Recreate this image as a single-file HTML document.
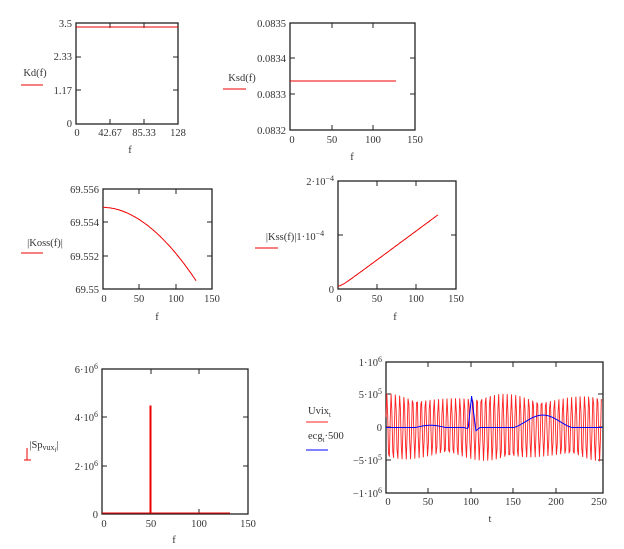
<!DOCTYPE html>
<html><head><meta charset="utf-8">
<style>
body{margin:0;background:#fff;}
svg{font-family:"Liberation Serif",serif;font-size:10.5px;fill:#333;}
text{fill:#333;}
</style></head><body>
<svg id="s" width="624" height="544" xmlns="http://www.w3.org/2000/svg"></svg>
<script>
const S=document.getElementById('s');let h='';
function box(x0,y0,x1,y1,xt,yt){
 h+=`<rect x="${x0}" y="${y0}" width="${x1-x0}" height="${y1-y0}" fill="none" stroke="#222" stroke-width="1.3"/>`;
 xt.forEach(x=>{h+=`<line x1="${x}" y1="${y0}" x2="${x}" y2="${y0+5}" stroke="#222"/><line x1="${x}" y1="${y1}" x2="${x}" y2="${y1-5}" stroke="#222"/>`});
 yt.forEach(y=>{h+=`<line x1="${x0}" y1="${y}" x2="${x0+5}" y2="${y}" stroke="#222"/><line x1="${x1}" y1="${y}" x2="${x1-5}" y2="${y}" stroke="#222"/>`});
}
function t(x,y,s,a){h+=`<text x="${x}" y="${y}" text-anchor="${a||'middle'}">${s}</text>`;}
function path(pts,c,w){h+=`<path d="M${pts.map(p=>p[0].toFixed(1)+','+p[1].toFixed(1)).join('L')}" fill="none" stroke="${c}" stroke-width="${w||1}"/>`;}
// 1 Kd
box(76,23,178,124,[110,144],[57,90]);
path([[76,27],[178,27]],'#e00');
t(72,27,'3.5','end');t(72,60,'2.33','end');t(72,94,'1.17','end');t(72,127,'0','end');
t(77,136,'0');t(110,136,'42.67');t(144,136,'85.33');t(178,136,'128');t(130,153,'f');
t(35,76,'Kd(f)');path([[21,85],[43,85]],'#e00');
// 2 Ksd
box(290,23,415,130,[332,373],[58,94]);
path([[290,81],[396,81]],'#e00');
t(286,27,'0.0835','end');t(286,62,'0.0834','end');t(286,98,'0.0833','end');t(286,134,'0.0832','end');
t(292,143,'0');t(332,143,'50');t(373,143,'100');t(415,143,'150');t(352,160,'f');
t(242,81,'Ksd(f)');path([[223,89],[246,89]],'#e00');
// 3 Koss
box(103,189,212,289,[139,176],[222,256]);
{let p=[];for(let f=0;f<=128;f+=2){let v=69.5549-0.0044*Math.pow(f/128,1.9);p.push([103+f/150*109,189+(69.556-v)/0.006*100]);}path(p,'#e00');}
t(99,193,'69.556','end');t(99,226,'69.554','end');t(99,260,'69.552','end');t(99,293,'69.55','end');
t(104,302,'0');t(139,302,'50');t(176,302,'100');t(212,302,'150');t(157,320,'f');
t(45,246,'|Koss(f)|');path([[21,253],[43,253]],'#e00');
// 4 Kss
box(338,181,456,289,[377,416],[235]);
{let p=[];for(let f=0;f<=127;f+=1){let v=Math.sqrt(Math.pow(0.055e-4,2)+Math.pow(f*1.08e-6,2));p.push([338+f/150*118,289-(v/2e-4)*108]);}path(p,'#e00');}
t(334,185,'2·10<tspan dy="-4" font-size="8">−4</tspan>','end');
t(334,293,'0','end');t(339,302,'0');t(377,302,'50');t(416,302,'100');t(456,302,'150');t(395,320,'f');
t(295,240,'|Kss(f)|1·10<tspan dy="-4" font-size="8">−4</tspan>');path([[255,248],[278,248]],'#e00');
// 5 Sp
box(102,369,248,514,[151,199],[417,466]);
path([[102,513],[150,513],[150,406],[151,406],[151,513],[230,513]],'#e00');
t(98,373,'6·10<tspan dy="-4" font-size="8">6</tspan>','end');
t(98,421,'4·10<tspan dy="-4" font-size="8">6</tspan>','end');
t(98,470,'2·10<tspan dy="-4" font-size="8">6</tspan>','end');
t(98,518,'0','end');t(104,527,'0');t(151,527,'50');t(199,527,'100');t(248,527,'150');t(174,543,'f');
t(44,448,'|Sp<tspan font-size="8" dy="2">vux</tspan><tspan font-size="6" dy="2">f</tspan><tspan dy="-4">|</tspan>');
path([[24,460],[31,460]],'#e00');path([[27,460],[27,448]],'#e00');
// 6 Uvix
box(386,362,603,493,[428,471,513,556],[394,427,460]);
{let p=[];for(let i=0;i<=255;i++){let a=4.8e5+0.4e5*Math.cos(2*Math.PI*i/130);let v=a*Math.sin(2*Math.PI*50.5*i/256+0.3);p.push([386+i/256*217,427.5-v/1e6*65.5]);}path(p,'#f22',0.9);}
{let p=[];for(let i=0;i<=255;i++){let v=0;
 if(i>35&&i<70)v=0.34e5*Math.sin(Math.PI*(i-35)/35);
 if(i>92&&i<97)v=-0.2e5*(i-92)/5;
 if(i>=97&&i<=101)v=4.8e5*(i-97)/4;
 if(i>101&&i<106)v=4.8e5-5.3e5*(i-101)/5;
 if(i>=106&&i<111)v=-0.5e5*(111-i)/5;
 if(i>150&&i<220)v=1.9e5*Math.pow(Math.sin(Math.PI*(i-150)/70),1.5);
 p.push([386+i/256*217,427.5-v/1e6*65.5]);}path(p,'#00f',1);}
t(382,366,'1·10<tspan dy="-4" font-size="8">6</tspan>','end');
t(382,398,'5·10<tspan dy="-4" font-size="8">5</tspan>','end');
t(382,431,'0','end');
t(382,464,'−5·10<tspan dy="-4" font-size="8">5</tspan>','end');
t(382,497,'−1·10<tspan dy="-4" font-size="8">6</tspan>','end');
t(388,505,'0');t(428,505,'50');t(471,505,'100');t(513,505,'150');t(556,505,'200');t(599,505,'250');t(490,522,'t');
t(308,414,'Uvix<tspan font-size="7" dy="3">t</tspan>','start');path([[306,422],[328,422]],'#f22');
t(308,439,'ecg<tspan font-size="7" dy="3">t</tspan><tspan dy="-3">·500</tspan>','start');path([[306,450],[328,450]],'#00f');
S.innerHTML=h;
</script>
</body></html>
